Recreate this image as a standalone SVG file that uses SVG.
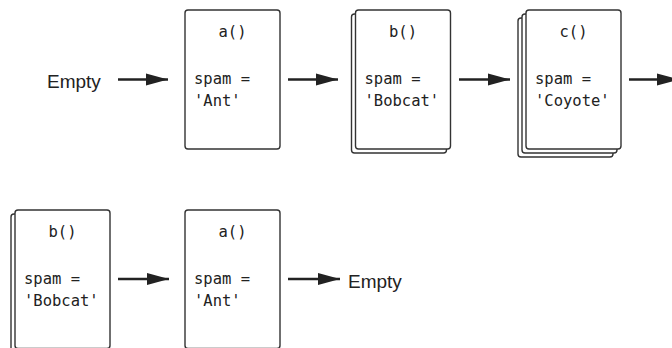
<svg xmlns="http://www.w3.org/2000/svg" width="672" height="348" viewBox="0 0 672 348">
<defs>
<style>
.box{fill:#fff;stroke:#333;stroke-width:1.4}
.mono{font-family:"DejaVu Sans Mono","Liberation Mono",monospace;font-size:15.5px;fill:#222}
.ctr{text-anchor:middle}
.lbl{font-family:"Liberation Sans","Open Sans",sans-serif;font-size:19px;fill:#222}
.arr{stroke:#222;stroke-width:2.6;fill:none;marker-end:url(#ah)}
</style>
<marker id="ah" markerUnits="userSpaceOnUse" markerWidth="23" markerHeight="13" refX="22" refY="6.5" orient="auto" viewBox="0 0 23 13">
<path d="M0,0.5 L22,6.5 L0,12.5 z" fill="#222"/>
</marker>
</defs>
<rect width="672" height="348" fill="#fff"/>

<g id="connectors">
<line class="arr" x1="118" y1="79.5" x2="168" y2="79.5"/>
<line class="arr" x1="288" y1="79.5" x2="338" y2="79.5"/>
<line class="arr" x1="459" y1="79.5" x2="510" y2="79.5"/>
<line class="arr" x1="629" y1="79.5" x2="679" y2="79.5"/>
<line class="arr" x1="118" y1="279" x2="169" y2="279"/>
<line class="arr" x1="288" y1="279" x2="340" y2="279"/>
</g>

<g id="empty-start">
<text class="lbl" x="47" y="88">Empty</text>
</g>

<g id="top-a">
<rect class="box" x="185" y="10" width="95" height="139" rx="3"/>
<text class="mono ctr" x="232.5" y="37">a()</text>
<text class="mono" x="194" y="84">spam =</text>
<text class="mono" x="194" y="106">'Ant'</text>
</g>

<g id="top-b">
<rect class="box" x="351.5" y="14" width="95" height="139" rx="3"/>
<rect class="box" x="355.5" y="10" width="95" height="139" rx="3"/>
<text class="mono ctr" x="403" y="37">b()</text>
<text class="mono" x="364.5" y="84">spam =</text>
<text class="mono" x="364.5" y="106">'Bobcat'</text>
</g>

<g id="top-c">
<rect class="box" x="518" y="18" width="95" height="139" rx="3"/>
<rect class="box" x="522" y="14" width="95" height="139" rx="3"/>
<rect class="box" x="526" y="10" width="95" height="139" rx="3"/>
<text class="mono ctr" x="573.5" y="37">c()</text>
<text class="mono" x="535" y="84">spam =</text>
<text class="mono" x="535" y="106">'Coyote'</text>
</g>

<g id="bottom-b">
<rect class="box" x="11" y="214" width="95" height="139" rx="3"/>
<rect class="box" x="15" y="210" width="95" height="138.5" rx="3"/>
<text class="mono ctr" x="62.5" y="237">b()</text>
<text class="mono" x="24" y="284">spam =</text>
<text class="mono" x="24" y="306">'Bobcat'</text>
</g>

<g id="bottom-a">
<rect class="box" x="185" y="210" width="95" height="138.5" rx="3"/>
<text class="mono ctr" x="232.5" y="237">a()</text>
<text class="mono" x="194" y="284">spam =</text>
<text class="mono" x="194" y="306">'Ant'</text>
</g>

<g id="empty-end">
<text class="lbl" x="348" y="288">Empty</text>
</g>
</svg>
